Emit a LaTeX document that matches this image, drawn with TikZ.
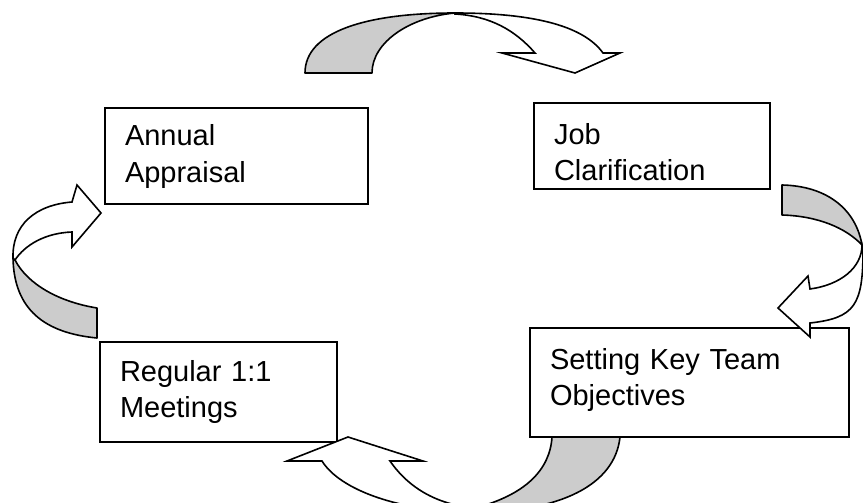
\documentclass[tikz,border=0pt]{standalone}
\usepackage{fontspec}
\setmainfont{Liberation Sans}
\definecolor{FoldGrey}{HTML}{CCCCCC}
\tikzset{
  stagebox/.style={draw,line width=1.8pt,fill=white,anchor=north west,outer sep=0pt,
    inner xsep=20pt,inner ysep=0pt,align=left,font=\fontsize{29}{36}\selectfont},
  foldback/.style={draw,line width=1.6pt,fill=FoldGrey,line join=round},
  foldfront/.style={draw,line width=1.6pt,fill=white,line join=miter},
}

\begin{document}
\begin{tikzpicture}[x=1pt,y=-1pt]
  \useasboundingbox (0,0) rectangle (863,503);
  \clip (0,0) rectangle (863,503);

  % --- the four stages ---
  \node[stagebox,text width=223pt,text height=38pt,text depth=58pt]
    (appraisal) at (105,108) {Annual\\Appraisal};
  \node[stagebox,text width=196pt,text height=41pt,text depth=45pt]
    (clarify) at (534,103) {Job\\Clarification};
  \node[stagebox,text width=279pt,text height=41pt,text depth=68pt]
    (objectives) at (530,328) {Setting Key Team\\Objectives};
  \node[stagebox,text width=197pt,text height=39pt,text depth=61pt]
    (meetings) at (100,342) {Regular 1:1\\Meetings};

  % --- top: appraisal -> clarification ---
  \draw[foldback] (305,73) .. controls (305,32) and (365,13) .. (455,13)
    .. controls (410,17) and (372,42) .. (372,73) -- cycle;
  \draw[foldfront] (455,13) .. controls (540,13) and (585,28) .. (603,53)
    -- (620,53) -- (575,73) -- (502,53) -- (535,53)
    .. controls (515,30) and (490,16) .. (455,14) -- cycle;

  % --- right: clarification -> objectives ---
  \draw[foldback] (782,185) .. controls (828,186) and (856,210) .. (862,245)
    .. controls (846,228) and (818,216) .. (782,215) -- cycle;
  \draw[foldfront] (862,245) .. controls (862,268) and (840,285) .. (810,289)
    -- (808,276) -- (778,308) -- (810,337) -- (810,323)
    .. controls (855,318) and (863,305) .. (863,250) -- cycle;

  % --- bottom: objectives -> meetings ---
  \draw[foldback] (620,437) .. controls (615,485) and (560,512) .. (475,512)
    -- (475,508) .. controls (525,495) and (550,470) .. (552,437) -- cycle;
  \draw[foldfront] (475,512) .. controls (400,512) and (340,490) .. (322,461)
    -- (287,461) -- (348,437) -- (423,461) -- (390,461)
    .. controls (410,490) and (440,505) .. (475,508) -- cycle;

  % --- left: meetings -> appraisal ---
  \draw[foldback] (97,338) .. controls (45,333) and (14,310) .. (13,258)
    -- (15,260) .. controls (28,285) and (60,302) .. (97,308) -- cycle;
  \draw[foldfront] (13,258) .. controls (12,225) and (35,205) .. (72,202)
    -- (77,185) -- (101,213) -- (72,247) -- (72,232)
    .. controls (45,233) and (25,245) .. (15,260) -- cycle;
\end{tikzpicture}
\end{document}
